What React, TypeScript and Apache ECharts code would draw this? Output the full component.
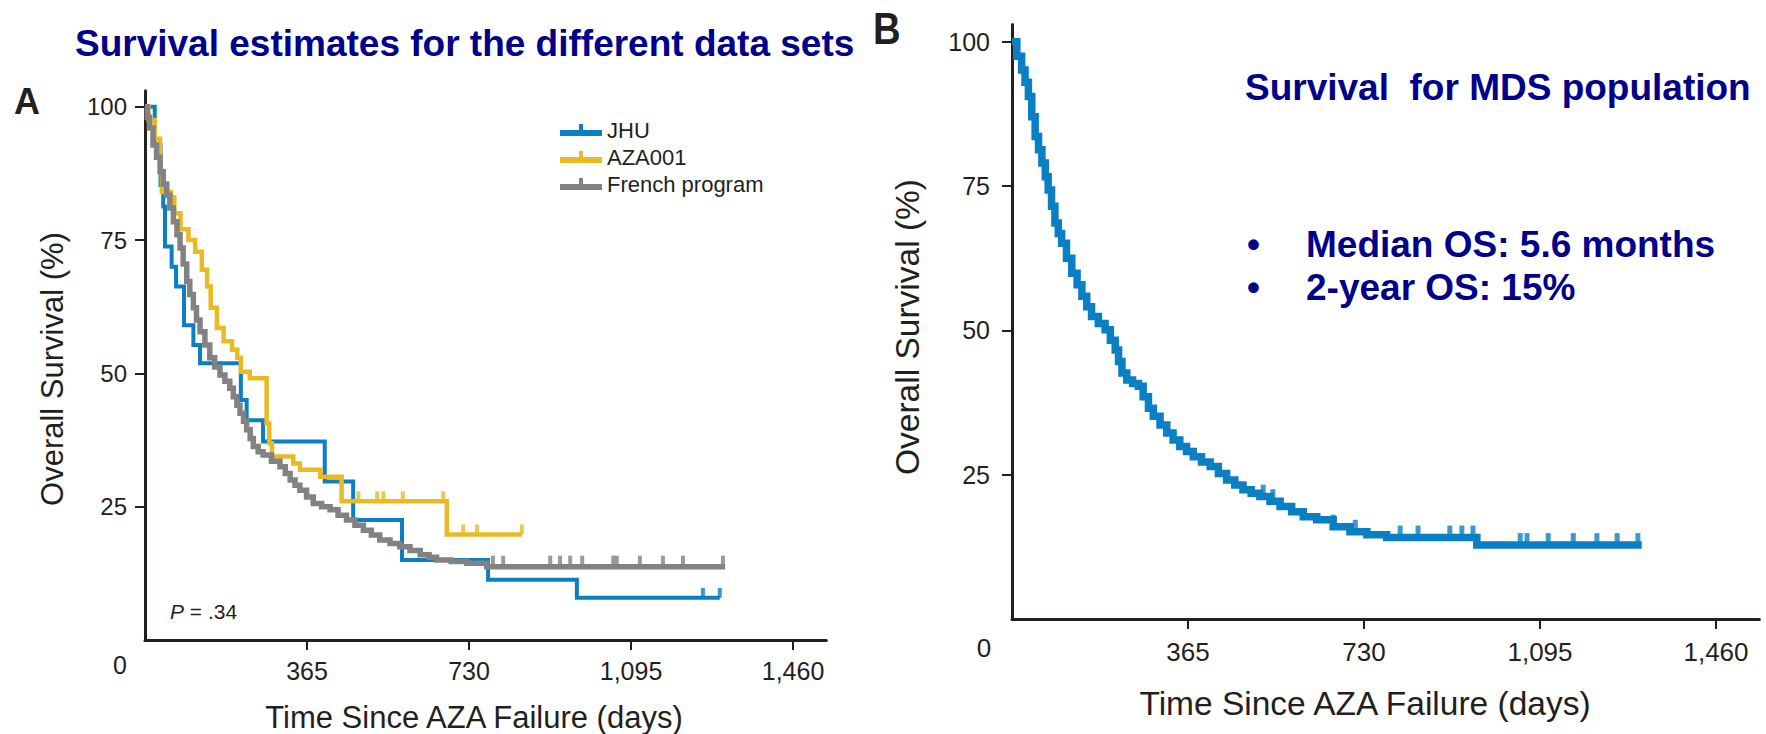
import React, { useEffect, useRef } from "react";
import * as echarts from "echarts";

// ---------- Panel A data ----------
const jhuDays = [0, 22, 35, 41, 45, 60, 70, 88, 109, 124, 216, 229, 266, 405, 469, 579, 773, 973, 1295];
const jhuSurv = [100, 92.8, 85.3, 81.3, 73.8, 70, 66.3, 59, 55.3, 51.9, 45, 41.2, 37.2, 29.7, 22.5, 15, 11.3, 7.9, 7.9];
const jhuCensor = [1257, 1295];

const azaDays = [0, 8, 22, 34, 38, 58, 66, 80, 98, 113, 128, 140, 148, 162, 177, 196, 208, 216, 236, 274, 280, 286, 334, 349, 395, 443, 680, 849];
const azaSurv = [100, 97.5, 94, 88, 84, 83, 80, 77, 75, 72.8, 69.4, 66.3, 62.3, 58.5, 56, 54.4, 52.9, 50.3, 49.1, 40.6, 36.9, 34.4, 33.1, 31.9, 30.6, 26, 19.8, 19.8];
const azaCensor = [481, 523, 537, 581, 672, 717, 748, 849];

const frDays = [0, 5, 10, 18, 26, 34, 41, 49, 56, 64, 72, 79, 86, 94, 101, 109, 116, 124, 135, 146, 157, 169, 180, 191, 199, 207, 214, 222, 229, 237, 244, 255, 266, 285, 304, 316, 327, 338, 349, 364, 379, 398, 417, 435, 454, 473, 492, 510, 529, 552, 574, 597, 620, 640, 657, 690, 725, 770, 1307];
const frSurv = [100, 98, 96, 92.8, 90.5, 87.8, 85.5, 83.4, 81, 78.4, 76, 73.5, 70.5, 67.2, 64.8, 62.3, 60, 57.8, 55.3, 52.9, 51.2, 49.7, 48.5, 47.2, 45.6, 44, 42.5, 41, 39.4, 37.8, 36.3, 35.3, 34.7, 33.5, 32.5, 31.2, 30, 29, 28.1, 26.8, 25.6, 25, 24.4, 23.4, 22.5, 21.5, 20.6, 19.7, 18.75, 18.1, 17.5, 16.8, 16, 15.5, 15, 14.7, 14.4, 13.75, 13.75];
const frCensor = [784, 807, 913, 935, 958, 985, 1055, 1063, 1115, 1167, 1212, 1302];

// ---------- Panel B data ----------
const mdsDays = [0, 3, 10, 20, 27, 34, 41, 48, 55, 62, 69, 75, 82, 89, 96, 103, 113, 124, 135, 145, 155, 165, 179, 193, 204, 214, 221, 228, 238, 250, 262, 272, 283, 293, 307, 321, 334, 348, 362, 376, 393, 411, 428, 445, 462, 479, 496, 514, 535, 556, 580, 604, 632, 666, 701, 736, 777, 964, 1306];
const mdsSurv = [100, 100, 97.5, 95.1, 93, 90.5, 87, 83.6, 81.3, 79, 76.6, 74.3, 71.5, 68.6, 66.8, 65.1, 62.5, 59.9, 57.9, 55.9, 54.1, 52.4, 51.2, 50.1, 48.3, 46.6, 44.6, 42.6, 41.4, 40.8, 40.3, 38.5, 36.5, 35.1, 33.6, 32.2, 31, 29.9, 29, 28.1, 27.2, 26.4, 25.2, 24.1, 23.2, 22.4, 21.8, 21.2, 20.4, 19.5, 18.6, 17.7, 17.2, 16, 15.1, 14.6, 14.1, 12.8, 12.8];
const mdsCensor = [521, 541, 666, 712, 805, 842, 908, 933, 956, 1054, 1068, 1112, 1164, 1213, 1255, 1298];

const xTicks = [365, 730, 1095, 1460];
const yTicks = [25, 50, 75, 100];
const seriesNames = ["JHU", "AZA001", "French program"];

const BLUE = "#0a7fc4";
const YELLOW = "#e9ba22";
const GRAY = "#828282";
const NAVY = "#00008b";
const INK = "#231f20";
const FONT = "'Liberation Sans', Arial, Helvetica, sans-serif";

function pairs(days: number[], surv: number[]) {
  return days.map((d, i) => [d, surv[i]]);
}
function survAt(days: number[], surv: number[], t: number) {
  let v = surv[0];
  for (let i = 0; i < days.length; i++) if (days[i] <= t) v = surv[i];
  return v;
}
function censorPts(days: number[], surv: number[], cens: number[]) {
  return cens.map((t) => [t, survAt(days, surv, t)]);
}

const legendIcon = "path://M0,6L42,6L42,12L0,12Z M19,0L23,0L23,6L19,6Z";

export default function App() {
  const ref = useRef<HTMLDivElement>(null);
  useEffect(() => {
    if (!ref.current) return;
    const chart = echarts.init(ref.current, undefined, { renderer: "svg" });

    const xAxisBase = (gridIndex: number, max: number, margin: number, fs: number) => ({
      type: "value",
      gridIndex,
      min: 0,
      max,
      interval: 365,
      axisLine: { show: true, lineStyle: { color: INK, width: 3 } },
      axisTick: { show: true, length: 10, lineStyle: { color: INK, width: 2 }, customValues: xTicks },
      axisLabel: {
        customValues: xTicks,
        margin,
        fontSize: fs,
        color: INK,
        fontFamily: FONT,
        formatter: (v: number) => v.toLocaleString("en-US"),
      },
      splitLine: { show: false },
    });
    const yAxisBase = (gridIndex: number, margin: number, fs: number) => ({
      type: "value",
      gridIndex,
      min: 0,
      max: 103,
      interval: 25,
      axisLine: { show: true, lineStyle: { color: INK, width: 3 } },
      axisTick: { show: true, length: 10, lineStyle: { color: INK, width: 2 }, customValues: yTicks },
      axisLabel: { customValues: yTicks, margin, fontSize: fs, color: INK, fontFamily: FONT },
      splitLine: { show: false },
    });

    const stepLine = (name: string, data: number[][], color: string, width: number, idx: number) => ({
      name,
      type: "line",
      step: "end",
      xAxisIndex: idx,
      yAxisIndex: idx,
      data,
      showSymbol: false,
      symbol: "none",
      color,
      itemStyle: { color },
      lineStyle: { color, width, join: "miter", cap: "butt" },
      silent: true,
    });
    const censor = (name: string, data: number[][], color: string, size: number[], idx: number) => ({
      name,
      type: "scatter",
      xAxisIndex: idx,
      yAxisIndex: idx,
      data,
      symbol: "rect",
      symbolSize: size,
      symbolOffset: [0, -size[1] / 2],
      itemStyle: { color },
      silent: true,
    });

    const txt = (text: string, x: number, y: number, fontSize: number, fill: string, extra: any = {}, align = "left") => ({
      type: "text",
      x,
      y,
      ...extra,
      style: {
        text,
        fontSize,
        fontFamily: FONT,
        fontWeight: "normal",
        fill,
        align,
        textAlign: align,
        verticalAlign: "middle",
        textVerticalAlign: "middle",
        ...(extra.style || {}),
      },
    });

    chart.setOption({
      animation: false,
      backgroundColor: "#ffffff",
      grid: [
        { left: 145, top: 90.67, width: 681.3, height: 549.33 },
        { left: 1012, top: 24.4, width: 747.4, height: 594.6 },
      ],
      xAxis: [xAxisBase(0, 1535, 18, 25), xAxisBase(1, 1550, 20, 26)],
      yAxis: [yAxisBase(0, 18, 24), yAxisBase(1, 22, 25)],
      legend: {
        orient: "vertical",
        left: 555,
        top: 114,
        itemWidth: 42,
        itemHeight: 12,
        itemGap: 5,
        selectedMode: false,
        data: seriesNames.map((n) => ({ name: n, icon: legendIcon })),
        textStyle: { fontSize: 22, color: INK, fontFamily: FONT },
      },
      series: [
        stepLine(seriesNames[0], pairs(jhuDays, jhuSurv), BLUE, 4, 0),
        censor("JHU censored", censorPts(jhuDays, jhuSurv, jhuCensor), BLUE, [4, 10], 0),
        stepLine(seriesNames[1], pairs(azaDays, azaSurv), YELLOW, 4.5, 0),
        censor("AZA001 censored", censorPts(azaDays, azaSurv, azaCensor), YELLOW, [4, 10], 0),
        stepLine(seriesNames[2], pairs(frDays, frSurv), GRAY, 5.5, 0),
        censor("French program censored", censorPts(frDays, frSurv, frCensor), GRAY, [4, 11], 0),
        stepLine("MDS population", pairs(mdsDays, mdsSurv), BLUE, 7.5, 1),
        censor("MDS censored", censorPts(mdsDays, mdsSurv, mdsCensor), BLUE, [5, 12], 1),
      ],
      graphic: [
        txt("Survival estimates for the different data sets", 75, 43, 37, NAVY, { style: { fontWeight: "bold" } }),
        txt("A", 14, 101, 36, INK, { style: { fontWeight: "bold" } }),
        txt("B", 873, 28, 45, INK, { scaleX: 0.85, style: { fontWeight: "bold" } }),
        txt("Survival  for MDS population", 1245, 87, 37, NAVY, { style: { fontWeight: "bold" } }),
        txt("•", 1247, 244, 37, NAVY, { style: { fontWeight: "bold" } }),
        txt("Median OS: 5.6 months", 1306, 244, 37, NAVY, { style: { fontWeight: "bold" } }),
        txt("•", 1247, 287, 37, NAVY, { style: { fontWeight: "bold" } }),
        txt("2-year OS: 15%", 1306, 287, 37, NAVY, { style: { fontWeight: "bold" } }),
        txt("{i|P} = .34", 170, 611, 21, INK, { style: { rich: { i: { fontStyle: "italic", fontSize: 21, fontFamily: FONT, fill: INK } } } }),
        txt("0", 120, 665, 25, INK, {}, "center"),
        txt("0", 984, 648, 26, INK, {}, "center"),
        txt("Overall Survival (%)", 52, 369, 31, INK, { rotation: Math.PI / 2 }, "center"),
        txt("Time Since AZA Failure (days)", 474, 717, 31, INK, {}, "center"),
        txt("Overall Survival (%)", 907, 327, 33.5, INK, { rotation: Math.PI / 2 }, "center"),
        txt("Time Since AZA Failure (days)", 1365, 703, 33.5, INK, {}, "center"),
      ],
    });
    return () => chart.dispose();
  }, []);
  return (
    <div
      ref={ref}
      style={{ position: "fixed", left: 0, top: 0, width: 1766, height: 734, background: "#fff" }}
    />
  );
}
